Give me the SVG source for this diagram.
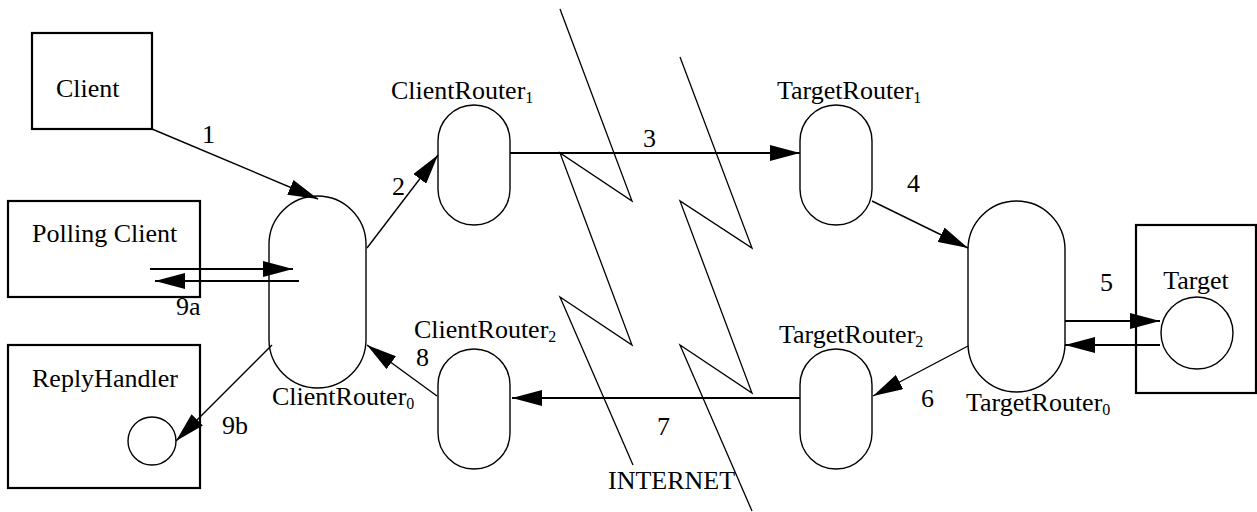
<svg xmlns="http://www.w3.org/2000/svg" width="1257" height="512" viewBox="0 0 1257 512">
<style>
text{font-family:"Liberation Serif","Times New Roman",serif;font-size:26px;fill:#000}
.box{fill:none;stroke:#000;stroke-width:2.2}
.pill{fill:#fff;stroke:#000;stroke-width:1.4}
.circ{fill:#fff;stroke:#000;stroke-width:1.4}
.thin{fill:none;stroke:#000;stroke-width:1.4;marker-end:url(#ah)}
.thick{fill:none;stroke:#000;stroke-width:2.2;marker-end:url(#ah)}
.zig{fill:none;stroke:#000;stroke-width:1.3}
.sub{font-size:16px}
</style>
<defs>
<marker id="ah" markerUnits="userSpaceOnUse" markerWidth="30" markerHeight="16" refX="30" refY="8" orient="auto">
<path d="M0,0 L30,8 L0,16 z" fill="#000"/>
</marker>
</defs>
<g id="internet">
<polyline class="zig" points="560,9 632,201 560,153 632,345 560,297 633,465"/>
<polyline class="zig" points="680,57 752,248 680,201 752,393 680,345 752,511"/>
<text x="608" y="489">INTERNET</text>
</g>
<g id="client">
<rect class="box" x="32" y="33" width="120" height="96"/>
<text x="56" y="97">Client</text>
</g>
<g id="polling-client">
<rect class="box" x="8" y="201" width="192" height="96"/>
<text x="32" y="242">Polling Client</text>
</g>
<g id="reply-handler">
<rect class="box" x="8" y="345" width="192" height="143"/>
<text x="32" y="387">ReplyHandler</text>
<circle class="circ" cx="152" cy="441" r="24"/>
</g>
<g id="client-router-0">
<rect class="pill" x="269" y="196" width="97" height="192" rx="48.5" ry="48.5"/>
<text x="272" y="405">ClientRouter<tspan class="sub" dy="4">0</tspan></text>
</g>
<g id="client-router-1">
<rect class="pill" x="438" y="105" width="72" height="120" rx="36" ry="36"/>
<text x="391" y="99">ClientRouter<tspan class="sub" dy="4">1</tspan></text>
</g>
<g id="client-router-2">
<rect class="pill" x="438" y="349" width="72" height="120" rx="36" ry="36"/>
<text x="414" y="338">ClientRouter<tspan class="sub" dy="4">2</tspan></text>
</g>
<g id="target-router-1">
<rect class="pill" x="800" y="105" width="72" height="120" rx="36" ry="36"/>
<text x="777" y="99">TargetRouter<tspan class="sub" dy="4">1</tspan></text>
</g>
<g id="target-router-2">
<rect class="pill" x="800" y="349" width="72" height="120" rx="36" ry="36"/>
<text x="779" y="343">TargetRouter<tspan class="sub" dy="4">2</tspan></text>
</g>
<g id="target-router-0">
<rect class="pill" x="968" y="201" width="97" height="191" rx="48.5" ry="48.5"/>
<text x="966" y="411">TargetRouter<tspan class="sub" dy="4">0</tspan></text>
</g>
<g id="target">
<rect class="box" x="1136" y="225" width="120" height="168"/>
<text x="1196" y="289" text-anchor="middle">Target</text>
<circle class="circ" cx="1197" cy="333" r="36"/>
</g>
<g id="connectors">
<line class="thin" x1="152" y1="129" x2="318" y2="199"/>
<text x="202" y="143">1</text>
<line class="thin" x1="367" y1="248" x2="438" y2="155"/>
<text x="392" y="195">2</text>
<line class="thick" x1="510" y1="153" x2="800" y2="153"/>
<text x="643" y="147">3</text>
<line class="thin" x1="872" y1="201" x2="968" y2="248"/>
<text x="907" y="192">4</text>
<line class="thick" x1="1065" y1="321" x2="1160" y2="321"/>
<text x="1100" y="291">5</text>
<line class="thick" x1="1160" y1="345" x2="1065" y2="345"/>
<line class="thin" x1="968" y1="346" x2="873" y2="396"/>
<text x="921" y="407">6</text>
<line class="thick" x1="800" y1="398" x2="512" y2="398"/>
<text x="657" y="435">7</text>
<line class="thin" x1="437" y1="396" x2="367" y2="345"/>
<text x="416" y="366">8</text>
<line class="thick" x1="150" y1="269" x2="293" y2="269"/>
<line class="thick" x1="299" y1="281" x2="155" y2="281"/>
<text x="176" y="315">9a</text>
<line class="thin" x1="272" y1="345" x2="176" y2="441"/>
<text x="222" y="434">9b</text>
</g>
</svg>
